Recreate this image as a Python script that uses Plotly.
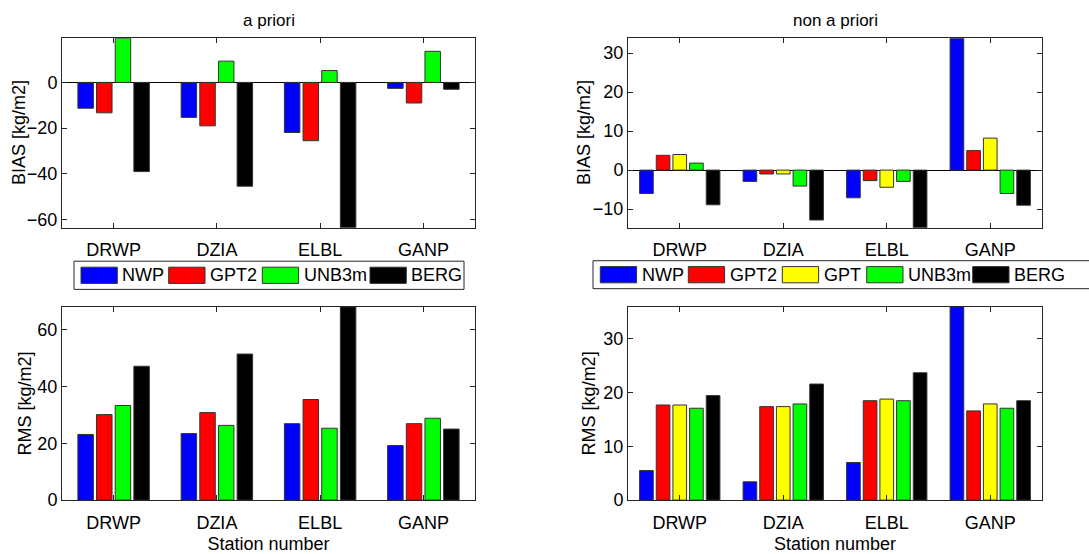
import plotly.graph_objects as go

# ---------------- data ----------------
stations = ["DRWP", "DZIA", "ELBL", "GANP"]

apriori_names = ["NWP", "GPT2", "UNB3m", "BERG"]
apriori_bias_nwp = [-11.3, -15.3, -21.9, -2.6]
apriori_bias_gpt2 = [-13.3, -19.0, -25.5, -9.0]
apriori_bias_unb3m = [19.3, 9.3, 5.2, 13.6]
apriori_bias_berg = [-39.0, -45.4, -63.6, -3.0]

apriori_rms_nwp = [23.1, 23.4, 26.9, 19.2]
apriori_rms_gpt2 = [30.1, 30.8, 35.4, 26.9]
apriori_rms_unb3m = [33.3, 26.3, 25.3, 28.8]
apriori_rms_berg = [47.1, 51.4, 68.0, 25.0]

nonapriori_names = ["NWP", "GPT2", "GPT", "UNB3m", "BERG"]
nonapriori_bias_nwp = [-6.0, -2.9, -7.1, 33.8]
nonapriori_bias_gpt2 = [3.8, -1.0, -2.7, 5.0]
nonapriori_bias_gpt = [4.0, -1.0, -4.4, 8.2]
nonapriori_bias_unb3m = [1.8, -4.1, -2.9, -6.0]
nonapriori_bias_berg = [-8.9, -12.8, -14.8, -9.0]

nonapriori_rms_nwp = [5.5, 3.4, 7.0, 36.0]
nonapriori_rms_gpt2 = [17.7, 17.4, 18.5, 16.6]
nonapriori_rms_gpt = [17.7, 17.4, 18.8, 17.9]
nonapriori_rms_unb3m = [17.1, 17.9, 18.5, 17.1]
nonapriori_rms_berg = [19.45, 21.6, 23.7, 18.5]

# ---------------- styles ----------------
COLORS = {"NWP": "#0000FF", "GPT2": "#FF0000", "GPT": "#FFFF00",
          "UNB3m": "#00FF00", "BERG": "#000000"}
FONT = "Liberation Sans, Arial, sans-serif"
AXC = "#262626"
EDGE = "#333333"
W, H = 1089, 554
FS = 18


def px(x):
    return x / W


def py(y):
    return 1 - y / H


panels = [
    # suffix, names, series, x-domain px, y-domain px, y title, y-title x px, title, dtick, zero base, pitch, width, x title
    ("", apriori_names,
     [apriori_bias_nwp, apriori_bias_gpt2, apriori_bias_unb3m, apriori_bias_berg],
     (62, 475), (39, 232), "BIAS [kg/m2]", 19, "a priori", 20, False, 0.1807, 0.15, None),
    ("2", nonapriori_names,
     [nonapriori_bias_nwp, nonapriori_bias_gpt2, nonapriori_bias_gpt,
      nonapriori_bias_unb3m, nonapriori_bias_berg],
     (628, 1042), (39, 232), "BIAS [kg/m2]", 584, "non a priori", 10, False, 0.161, 0.132, None),
    ("3", apriori_names,
     [apriori_rms_nwp, apriori_rms_gpt2, apriori_rms_unb3m, apriori_rms_berg],
     (62, 475), (312.5, 509.3), "RMS [kg/m2]", 25, None, 20, True, 0.1807, 0.15, "Station number"),
    ("4", nonapriori_names,
     [nonapriori_rms_nwp, nonapriori_rms_gpt2, nonapriori_rms_gpt,
      nonapriori_rms_unb3m, nonapriori_rms_berg],
     (628, 1042), (312.3, 509.3), "RMS [kg/m2]", 589, None, 10, True, 0.161, 0.132, "Station number"),
]

fig = go.Figure()
layout = dict(
    width=W, height=H, autosize=False,
    margin=dict(l=0, r=0, t=0, b=0),
    paper_bgcolor="white", plot_bgcolor="white",
    showlegend=False, barmode="overlay",
    font=dict(family=FONT, size=FS, color="black"),
    annotations=[], shapes=[],
)

for (suffix, names, series, xd, yd, ytitle, ytx, title, dtick, zero_base,
     pitch, bw, xtitle) in panels:
    n = len(names)
    for i, (name, vals) in enumerate(zip(names, series)):
        center = (i - (n - 1) / 2) * pitch
        fig.add_trace(go.Bar(
            x=stations, y=vals, name=name,
            xaxis="x" + suffix, yaxis="y" + suffix,
            width=bw, offset=center - bw / 2,
            marker=dict(color=COLORS[name], line=dict(color=EDGE, width=1)),
        ))
    allv = [v for s in series for v in s]
    ymin = 0 if zero_base else min(allv)
    ymax = max(allv)
    xaxis = dict(
        domain=[px(xd[0]), px(xd[1])], anchor="y" + suffix,
        type="category", range=[-0.5, len(stations) - 0.5],
        showline=True, linecolor=AXC, linewidth=1, mirror="ticks",
        ticks="inside", ticklen=5, tickcolor=AXC, showgrid=False, zeroline=False,
        tickfont=dict(size=FS), fixedrange=True, ticklabelstandoff=6,
    )
    if xtitle:
        xaxis["title"] = dict(text=xtitle, font=dict(size=FS), standoff=5)
    layout["xaxis" + suffix] = xaxis
    layout["yaxis" + suffix] = dict(
        domain=[py(yd[1]), py(yd[0])], anchor="x" + suffix,
        range=[ymin, ymax], dtick=dtick, tick0=0,
        showline=True, linecolor=AXC, linewidth=1, mirror="ticks",
        ticks="inside", ticklen=5, tickcolor=AXC, showgrid=False,
        zeroline=True, zerolinecolor="black", zerolinewidth=1,
        tickfont=dict(size=FS), fixedrange=True,
    )
    # y-axis title
    layout["annotations"].append(dict(
        text=ytitle, xref="paper", yref="paper", textangle=-90,
        x=px(ytx), y=py((yd[0] + yd[1]) / 2), xanchor="center", yanchor="middle",
        showarrow=False, font=dict(size=FS)))
    if title:
        layout["annotations"].append(dict(
            text=title, xref="paper", yref="paper",
            x=px((xd[0] + xd[1]) / 2), y=py(20.5), xanchor="center", yanchor="middle",
            showarrow=False, font=dict(size=17)))

# ---------------- legends (swatch + label) ----------------
legend_boxes = [
    (apriori_names, (74, 464), (266, 294.7), [81, 168.7, 262.3, 370]),
    (nonapriori_names, (593, 1100), (265.5, 294), [600.3, 688.3, 782.3, 866.7, 972.7]),
]
SW_W, SW_H, GAP = 36.3, 16.5, 3.0
for names, bx, by, starts in legend_boxes:
    layout["shapes"].append(dict(
        type="rect", xref="paper", yref="paper",
        x0=px(bx[0]), x1=px(bx[1]), y0=py(by[1]), y1=py(by[0]),
        line=dict(color=AXC, width=1), fillcolor="white", layer="above"))
    yc = (by[0] + by[1]) / 2
    for name, x0 in zip(names, starts):
        layout["shapes"].append(dict(
            type="rect", xref="paper", yref="paper",
            x0=px(x0), x1=px(x0 + SW_W), y0=py(yc + SW_H / 2), y1=py(yc - SW_H / 2),
            line=dict(color=EDGE, width=1), fillcolor=COLORS[name], layer="above"))
        layout["annotations"].append(dict(
            text=name, xref="paper", yref="paper",
            x=px(x0 + SW_W + GAP), y=py(yc), xanchor="left", yanchor="middle",
            showarrow=False, font=dict(size=FS)))

fig.update_layout(**layout)
fig.write_html(
    "out.html",
    config={"displayModeBar": False},
    post_script="document.body.style.margin='0';document.body.style.overflow='hidden';",
)
